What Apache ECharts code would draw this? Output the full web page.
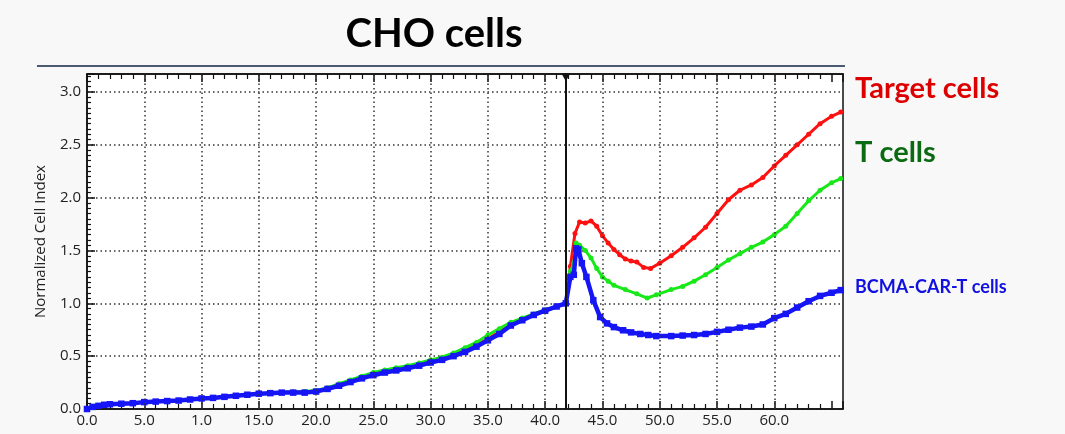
<!DOCTYPE html>
<html>
<head>
<meta charset="utf-8">
<script src="https://cdn.jsdelivr.net/npm/echarts@6/dist/echarts.min.js"></script>
<style>
html,body{margin:0;padding:0;background:#f8f8f8;}
#c{width:1065px;height:434px;}
</style>
</head>
<body>
<div id="c"></div>
<script>
// ---- data ----
const chartTitle = 'CHO cells';
const yAxisName = 'Normalized Cell Index';
const seriesNames = ['Target cells', 'T cells', 'BCMA-CAR-T cells'];
const xTickLabels = ['0.0','5.0','1.0','15.0','20.0','25.0','30.0','35.0','40.0','45.0','50.0','55.0','60.0'];
const yTickLabels = ['0.0','0.5','1.0','1.5','2.0','2.5','3.0'];
const treatmentTime = 41.8;

const earlyHours = [0,0.5,1,1.5,2,3,4,5,6,7,8,9,10,11,12,13,14,15,16,17,18,19,20,21,22,23,24,25,26,27,28,29,30,31,32,33,34,35,36,37,38,39,40,41,41.8];

const targetEarly = [0,0.02,0.03,0.04,0.045,0.05,0.055,0.065,0.07,0.075,0.08,0.09,0.10,0.105,0.115,0.125,0.135,0.145,0.15,0.155,0.16,0.16,0.17,0.195,0.23,0.265,0.30,0.33,0.355,0.375,0.395,0.42,0.45,0.475,0.51,0.555,0.60,0.665,0.73,0.80,0.85,0.89,0.93,0.97,1.00];
const tcellEarly  = [0,0.02,0.03,0.04,0.045,0.05,0.055,0.065,0.07,0.075,0.08,0.09,0.10,0.105,0.115,0.125,0.135,0.145,0.15,0.155,0.16,0.165,0.175,0.20,0.24,0.275,0.31,0.345,0.37,0.39,0.41,0.435,0.465,0.49,0.53,0.58,0.63,0.70,0.76,0.82,0.86,0.90,0.94,0.97,1.00];
const carEarly    = [0,0.02,0.03,0.04,0.045,0.05,0.055,0.065,0.07,0.075,0.08,0.09,0.10,0.105,0.115,0.125,0.135,0.145,0.15,0.155,0.155,0.155,0.165,0.19,0.22,0.255,0.29,0.32,0.345,0.365,0.385,0.41,0.44,0.465,0.50,0.54,0.59,0.65,0.71,0.79,0.84,0.89,0.93,0.97,1.00];

const targetLateHours = [42.2,42.6,43.0,43.5,44.0,44.5,45.0,45.5,46,46.5,47,47.5,48,48.6,49.2,50,51,52,53,54,55,56,57,58,59,60,61,62,63,64,65,65.8];
const targetLate      = [1.35,1.66,1.77,1.76,1.78,1.73,1.64,1.57,1.51,1.46,1.42,1.40,1.39,1.34,1.33,1.38,1.45,1.53,1.62,1.72,1.85,1.98,2.07,2.12,2.19,2.30,2.40,2.50,2.60,2.70,2.77,2.81];

const tcellLateHours = [42.2,42.5,42.7,43.0,43.5,44.0,44.5,45.0,45.5,46,47,48,48.9,49.7,51,52,53,54,55,56,57,58,59,60,61,62,63,64,65,65.8];
const tcellLate      = [1.30,1.38,1.57,1.55,1.50,1.43,1.33,1.25,1.21,1.17,1.13,1.09,1.05,1.08,1.13,1.16,1.21,1.27,1.34,1.41,1.47,1.53,1.58,1.65,1.73,1.85,1.97,2.07,2.14,2.18];

const carLateHours = [42.2,42.5,42.7,42.9,43.2,43.6,44.2,44.8,45.4,46,46.8,47.5,48.3,49,49.7,51,52,53,54,55,56,57,58,59,60,61,62,63,64,65,65.8];
const carLate      = [1.25,1.27,1.52,1.51,1.38,1.25,1.03,0.87,0.81,0.775,0.745,0.725,0.71,0.70,0.69,0.69,0.695,0.70,0.71,0.73,0.75,0.77,0.78,0.80,0.86,0.90,0.96,1.02,1.07,1.10,1.125];

// ---- build ----
function pairs(h1, v1, h2, v2) {
  const out = [];
  h1.forEach((h, i) => out.push([h, v1[i]]));
  h2.forEach((h, i) => out.push([h, v2[i]]));
  return out;
}
const X_MAX = 66, Y_MAX = 3.17;
const gridXs = xTickLabels.map((_, i) => i * 5).filter(v => v > 0);

const chart = echarts.init(document.getElementById('c'), null, {renderer: 'canvas'});
const lblFont = {fontFamily: 'Open Sans', fontSize: 15, color: '#222'};
const option = {
  backgroundColor: '#f8f8f8',
  animation: false,
  grid: {left: 87, right: 222, top: 74, bottom: 25, show: true, backgroundColor: '#ffffff', borderColor: '#111', borderWidth: 1.5},
  xAxis: [{
    type: 'value', min: 0, max: X_MAX, interval: 5, position: 'bottom',
    axisLine: {show: true, lineStyle: {color: '#111', width: 1.5}},
    axisTick: {show: true, inside: true, length: 8, lineStyle: {color: '#111', width: 1.5}},
    minorTick: {show: true, splitNumber: 5, length: 5, lineStyle: {color: '#111', width: 1.2}},
    splitLine: {show: false},
    axisLabel: Object.assign({margin: 4, formatter: v => {
      const k = Math.round(v / 5);
      return (Math.abs(v - k * 5) < 1e-6 && k < xTickLabels.length) ? xTickLabels[k] : '';
    }}, lblFont)
  }, {
    type: 'value', min: 0, max: X_MAX, interval: 5, position: 'top',
    axisLine: {show: true, lineStyle: {color: '#111', width: 1.5}},
    axisTick: {show: true, inside: true, length: 8, lineStyle: {color: '#111', width: 1.5}},
    minorTick: {show: true, splitNumber: 5, length: 5, lineStyle: {color: '#111', width: 1.2}},
    splitLine: {show: false},
    axisLabel: {show: false}
  }],
  yAxis: {
    type: 'value', min: 0, max: Y_MAX, interval: 0.5,
    name: yAxisName, nameLocation: 'middle', nameGap: 39, nameRotate: 90,
    nameTextStyle: {fontFamily: 'Open Sans', fontSize: 15, color: '#222'},
    axisLine: {show: true, lineStyle: {color: '#111', width: 1.5}},
    axisTick: {show: true, inside: true, length: 8, lineStyle: {color: '#111', width: 1.5}},
    minorTick: {show: true, splitNumber: 10, length: 4, lineStyle: {color: '#111', width: 1.2}},
    splitLine: {show: true, lineStyle: {color: '#333', width: 1.5, type: [1.5, 3]}},
    axisLabel: Object.assign({margin: 6, formatter: v => {
      const k = Math.round(v / 0.5);
      return (Math.abs(v - k * 0.5) < 1e-6 && k < yTickLabels.length) ? yTickLabels[k] : '';
    }}, lblFont)
  },
  series: [
    {
      name: 'grid', type: 'line', data: [], z: 1, silent: true,
      markLine: {silent: true, symbol: ['none','none'], label: {show: false},
        lineStyle: {color: '#333', width: 1.5, type: [1.5, 3]},
        data: gridXs.map(x => ({xAxis: x}))}
    },
    {
      name: seriesNames[0], type: 'line', z: 2,
      data: pairs(earlyHours, targetEarly, targetLateHours, targetLate),
      lineStyle: {color: '#ff1010', width: 3}, itemStyle: {color: '#ff1010'},
      symbol: 'circle', symbolSize: 5, showSymbol: true
    },
    {
      name: seriesNames[1], type: 'line', z: 3,
      data: pairs(earlyHours, tcellEarly, tcellLateHours, tcellLate),
      lineStyle: {color: '#18e818', width: 3}, itemStyle: {color: '#18e818'},
      symbol: 'circle', symbolSize: 5, showSymbol: true
    },
    {
      name: seriesNames[2], type: 'line', z: 4,
      data: pairs(earlyHours, carEarly, carLateHours, carLate),
      lineStyle: {color: '#1515f5', width: 4.5}, itemStyle: {color: '#1515f5'},
      symbol: 'rect', symbolSize: 6.5, showSymbol: true,
      markLine: {silent: true, symbol: ['none','none'], label: {show: false},
        lineStyle: {color: '#111', width: 2, type: 'solid'},
        data: [{xAxis: treatmentTime}]},
      markPoint: {silent: true, symbol: 'triangle', symbolRotate: 180, symbolSize: [9, 8],
        itemStyle: {color: '#111'}, label: {show: false},
        data: [{coord: [treatmentTime, Y_MAX - 0.03]}]}
    }
  ],
  graphic: [
    {type: 'text', style: {text: chartTitle, x: 434, y: 34, align: 'center', verticalAlign: 'middle',
      font: 'bold 40px Lato', fill: '#000'}},
    {type: 'line', shape: {x1: 37, y1: 66, x2: 845, y2: 66}, style: {stroke: '#4a5a70', lineWidth: 2}},
    {type: 'text', style: {text: seriesNames[0], x: 855, y: 89, verticalAlign: 'middle', font: 'bold 29px Lato', fill: '#dd0000'}},
    {type: 'text', style: {text: seriesNames[1], x: 855, y: 153, verticalAlign: 'middle', font: 'bold 29px Lato', fill: '#0b6a12'}},
    {type: 'text', style: {text: seriesNames[2], x: 855, y: 287, verticalAlign: 'middle', font: 'bold 18px Lato', fill: '#1010e0'}}
  ]
};
chart.setOption(option);
</script>
</body>
</html>
